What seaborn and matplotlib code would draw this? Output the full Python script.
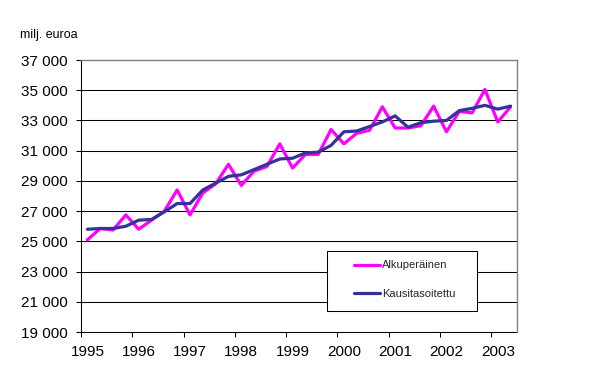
import matplotlib
matplotlib.use("Agg")
import matplotlib.pyplot as plt
from matplotlib.lines import Line2D
from matplotlib.patches import Rectangle
from matplotlib.ticker import FuncFormatter
import numpy as np
import pandas as pd
import seaborn as sns

# ---- data (quarterly, 1995 Q1 - 2003 Q2), milj. euroa ----
years = [1995, 1996, 1997, 1998, 1999, 2000, 2001, 2002, 2003]
alkuperainen = [25100, 25850, 25750, 26750, 25800, 26400, 27000, 28400,
                26750, 28200, 28800, 30100, 28700, 29650, 29950, 31450,
                29850, 30750, 30750, 32400, 31450, 32150, 32350, 33900,
                32500, 32500, 32650, 33950, 32250, 33600, 33500, 35050,
                32900, 33900]
kausitasoitettu = [25800, 25850, 25850, 26000, 26400, 26450, 26950, 27500,
                   27500, 28400, 28850, 29300, 29400, 29750, 30100, 30450,
                   30500, 30850, 30900, 31350, 32250, 32300, 32600, 32900,
                   33300, 32550, 32850, 32950, 33000, 33650, 33800, 34000,
                   33750, 33950]
series_names = ["Alkuperäinen", "Kausitasoitettu"]
colors = ["#FF00FF", "#333399"]
yticks = list(range(19000, 37001, 2000))
unit_label = "milj. euroa"

sns.set_theme(style="white")
plt.rcParams["font.family"] = ["Liberation Sans", "DejaVu Sans"]

n = len(alkuperainen)
df = pd.DataFrame({
    "q": list(range(n)) * 2,
    "value": alkuperainen + kausitasoitettu,
    "series": [series_names[0]] * n + [series_names[1]] * n,
})

fig = plt.figure(figsize=(6.06, 3.81), dpi=100)
ax = fig.add_axes([81 / 606, 1 - 332 / 381, 436 / 606, 272 / 381])

sns.lineplot(data=df, x="q", y="value", hue="series",
             palette=dict(zip(series_names, colors)), linewidth=2.3,
             ax=ax, legend=False, zorder=4)

ax.set_xlim(-0.5, n - 0.5)
ax.set_ylim(yticks[0], yticks[-1])
ax.set_xlabel("")
ax.set_ylabel("")

# y axis
ax.set_yticks(yticks)
ax.yaxis.set_major_formatter(FuncFormatter(lambda v, p: f"{v:,.0f}".replace(",", " ")))
ax.tick_params(axis="y", which="major", direction="out", length=3.6, width=0.75,
               color="black", labelsize=11, labelcolor="black", pad=6, left=True)

# x axis: labels centred on first quarter, ticks at year boundaries
major_pos = [i * 4 for i in range(len(years))]
ax.set_xticks(major_pos)
ax.set_xticklabels([str(y) for y in years])
ax.set_xticks([p - 0.5 for p in major_pos], minor=True)
ax.tick_params(axis="x", which="major", length=0, labelsize=11, labelcolor="black", pad=9)
ax.tick_params(axis="x", which="minor", direction="out", length=3.6, width=0.75,
               color="black", bottom=True)

ax.grid(axis="y", color="black", linewidth=0.75)
ax.grid(axis="x", visible=False)
ax.set_axisbelow(True)

for s in ["left", "bottom"]:
    ax.spines[s].set_color("black")
    ax.spines[s].set_linewidth(0.75)
for s in ["top", "right"]:
    ax.spines[s].set_color("#808080")
    ax.spines[s].set_linewidth(1.0)
    ax.spines[s].set_zorder(5)

# legend box
ax.add_patch(Rectangle((0.564, 0.078), 0.344, 0.221, transform=ax.transAxes,
                       facecolor="white", edgecolor="black", linewidth=0.75, zorder=3))
handles = [Line2D([], [], color=c, lw=2.3) for c in colors]
leg = ax.legend(handles, series_names, loc="upper left", bbox_to_anchor=(0.626, 0.263),
                frameon=False, fontsize=8, handlelength=2.35, handletextpad=0.15,
                labelspacing=1.7, borderpad=0, borderaxespad=0)
leg.set_zorder(6)

fig.text(20 / 606, 1 - 35 / 381, unit_label, ha="left", va="center", fontsize=9, color="black")

fig.savefig("out.png", dpi=100)
